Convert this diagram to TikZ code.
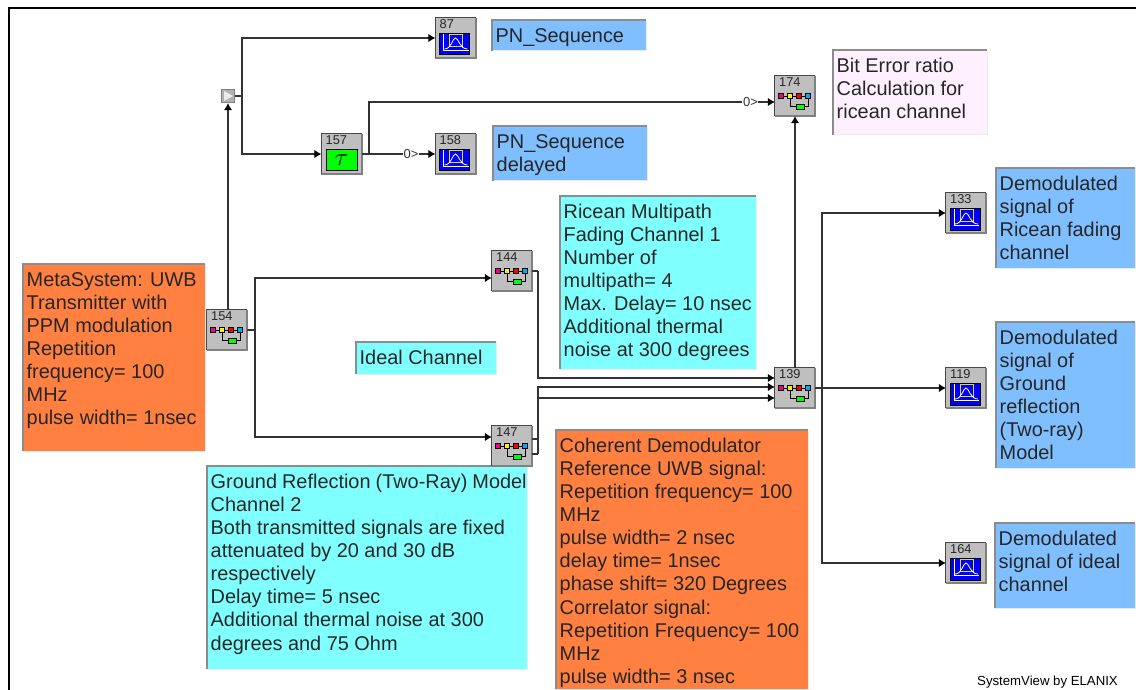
\documentclass[tikz,border=0pt]{standalone}
\usepackage{fontspec}
\setmainfont{Liberation Sans}
\usetikzlibrary{arrows.meta,calc}
\definecolor{sblue}{HTML}{80BFFF}
\definecolor{scyan}{HTML}{80FFFF}
\definecolor{sorange}{HTML}{FF8040}
\definecolor{spink}{HTML}{FFF0FF}
\definecolor{wirec}{HTML}{333333}
\tikzset{
  wire/.style={draw=wirec,line width=1.25pt},
  arrowwire/.style={wire,-{Latex[length=7pt,width=8.5pt,black]}},
  blockbox/.style={fill=black!25,minimum width=40pt,minimum height=40pt,inner sep=0pt},
  blocklabel/.style={font=\fontsize{12.8}{13}\selectfont,inner sep=0pt,text=black!85},
  zerolabel/.style={font=\fontsize{13}{13}\selectfont,fill=white,inner sep=0.6pt,text=black!80},
  notebox/.style={anchor=north west,inner sep=0pt,font=\fontsize{19.9}{23.1}\selectfont,text=black!85}
}
\newcommand{\blockedge}[1]{%
  \draw[black!50,line width=1.9pt] (#1.south west) -- (#1.south east) -- (#1.north east);
  \draw[black!72,line width=1.1pt] (#1.south west) -- (#1.north west) -- (#1.north east);}
% name, x, y, label
\newcommand{\metablock}[4]{%
  \node[blockbox] (#1) at (#2,#3) {};
  \blockedge{#1}
  \begin{scope}[shift={(#2,#3)}]
    \node[blocklabel,anchor=west] (#1t) at (-16,-13.5) {#4};
    \draw[black,line width=0.9pt] (-14,0) -- (13,0);
    \draw[black,line width=0.9pt] (-5,0) |- (1,10) (9,10) -| (13,0);
    \foreach \cx/\cc in {-14/magenta,-5/yellow,4/red,13/cyan}
      \draw[black,line width=.5pt,fill=\cc] (\cx-2.3,-2.6) rectangle (\cx+2.3,2.6);
    \draw[black,line width=.5pt,fill=green] (1,8) rectangle (9,13.5);
  \end{scope}}
\newcommand{\sinkblock}[4]{%
  \node[blockbox] (#1) at (#2,#3) {};
  \blockedge{#1}
  \begin{scope}[shift={(#2,#3)}]
    \node[blocklabel,anchor=west] (#1t) at (-16,-13.5) {#4};
    \fill[black] (-16.5,-5.2) rectangle (14.5,17.5);
    \fill[blue] (-15.5,-4.2) rectangle (13.5,16.5);
    \draw[yellow!90!black,line width=.9pt] (-6,-3.5) rectangle (7,8.5);
    \draw[white,line width=.8pt] (-12,-4) -- (-12,12.5) -- (13,12.5);
    \draw[white,line width=.8pt] (-11,11) .. controls (-4,11) and (-3,0) .. (0,0) .. controls (3,0) and (4,11) .. (12,11);
  \end{scope}}
% name x1 y1 x2 y2 colour text
\newcommand{\notebox}[7]{%
  \pgfmathsetmacro{\nw}{#4-#2-4}\pgfmathsetmacro{\nh}{#5-#3-7}%
  \fill[#6] (#2,#3) rectangle (#4,#5);
  \draw[black!8,line width=1pt] (#2,#5) -- (#4,#5) -- (#4,#3);
  \draw[black!45,line width=1.6pt] (#2,#5) -- (#2,#3) -- (#4,#3);
  \node[notebox] (#1) at (#2+3.5,#3+6) {\begin{minipage}[t][\nh pt][t]{\nw pt}\raggedright\strut #7\end{minipage}};}
\begin{document}
\begin{tikzpicture}[x=1pt,y=-1pt]
\useasboundingbox (0,0) rectangle (1136,690);
\fill[white] (0,0) rectangle (1136,690);
% frame
\coordinate (fa) at (9,690);
\coordinate (fb) at (9,8);
\coordinate (fc) at (1136,8);
\draw[black,line width=2.6pt] (fa) -- (fb) -- (fc);
% text boxes
\notebox{tpn}{492}{20}{646}{51}{sblue}{PN\_Sequence}
\notebox{tpnd}{493}{126}{647}{181}{sblue}{PN\_Sequence\\delayed}
\notebox{tber}{833}{50}{987}{135}{spink}{Bit Error ratio\\Calculation for\\ricean channel}
\notebox{tdr}{996}{168}{1135}{268}{sblue}{Demodulated\\signal of\\Ricean fading\\channel}
\notebox{tdg}{996}{322}{1135}{468}{sblue}{Demodulated\\signal of\\Ground\\reflection\\(Two-ray)\\Model}
\notebox{tdi}{995}{523}{1135}{608}{sblue}{Demodulated\\signal of ideal\\channel}
\notebox{tric}{560}{196}{756}{369}{scyan}{Ricean Multipath\\Fading Channel 1\\Number of\\multipath= 4\\Max. Delay= 10 nsec\\Additional thermal\\noise at 300 degrees}
\notebox{tid}{356}{342}{496}{374}{scyan}{Ideal Channel}
\notebox{tgr}{207}{466}{527}{669}{scyan}{Ground Reflection (Two-Ray) Model\\Channel 2\\Both transmitted signals are fixed\\attenuated by 20 and 30 dB\\respectively\\Delay time= 5 nsec\\Additional thermal noise at 300\\degrees and 75 Ohm}
\notebox{tmeta}{23}{264}{205}{451}{sorange}{MetaSystem: UWB\\Transmitter with\\PPM modulation\\Repetition\\frequency= 100\\MHz\\pulse width= 1nsec}
\notebox{tcoh}{556}{430}{808}{689}{sorange}{Coherent Demodulator\\Reference UWB signal:\\Repetition frequency= 100\\MHz\\pulse width= 2 nsec\\delay time= 1nsec\\phase shift= 320 Degrees\\Correlator signal:\\Repetition Frequency= 100\\MHz\\pulse width= 3 nsec}
% blocks
\sinkblock{b87}{455.5}{38}{87}
\sinkblock{b158}{455.5}{154}{158}
\sinkblock{b133}{966}{213}{133}
\sinkblock{b119}{966}{388}{119}
\sinkblock{b164}{966}{563}{164}
\metablock{b174}{795}{96}{174}
\metablock{b139}{795}{388}{139}
\metablock{b144}{512}{271}{144}
\metablock{b147}{512}{446}{147}
\metablock{b154}{227}{330}{154}
\node[blockbox] (b157) at (341.5,154) {};
\blockedge{b157}
\node[blocklabel,anchor=west] (b157t) at (325.5,140) {157};
\node[draw=black,line width=.8pt,fill=green,minimum width=31pt,minimum height=21pt,inner sep=0pt] (b157g) at (341.5,160) {\fontsize{30}{30}\selectfont$\tau$};
\node[draw=black!50,line width=1.4pt,fill=black!30,minimum width=13pt,minimum height=13pt,inner sep=0pt] (tri) at (228,96) {};
\fill[white!92!black] (224,91) -- (233,96) -- (224,101) -- cycle;
% junctions
\coordinate (j1) at (242,96);
\coordinate (j2) at (369,154);
\coordinate (j3) at (255,330);
\coordinate (j4) at (822,388);
\coordinate (p144) at (538,271);
\coordinate (p147a) at (538,439);
\coordinate (p147b) at (538,454);
% wires
\draw[arrowwire] (b154.north -| tri) -- (tri.south);
\draw[wire] (tri.east) -- (j1);
\draw[arrowwire] (j1) |- (b87.west);
\draw[arrowwire] (j1) |- (b157.west);
\draw[arrowwire] (b157.east) -- node[zerolabel,pos=.67] (z1) {0>} (b158.west);
\draw[arrowwire] (j2) |- node[zerolabel,pos=.97] (z2) {0>} ($(b174.west)+(0,6)$);
\draw[wire] (b154.east) -- (j3);
\draw[arrowwire] (j3) |- ($(b144.west)+(0,7)$);
\draw[arrowwire] (j3) |- ($(b147.west)+(0,-9)$);
\draw[wire] ($(b144.east)$) -- (p144);
\draw[arrowwire] (p144) |- ($(b139.west)+(0,-10)$);
\draw[wire] (b147.east |- p147a) -- (p147a);
\draw[wire] (b147.east |- p147b) -- (p147b);
\draw[arrowwire] (p147a) |- ($(b139.west)+(0,-1)$);
\draw[arrowwire] (p147b) |- ($(b139.west)+(0,10)$);
\draw[arrowwire] (b139.north) -- (b174.south);
\draw[wire] (b139.east) -- (j4);
\draw[arrowwire] (j4) -- (b119.west);
\draw[arrowwire] (j4) |- (b133.west);
\draw[arrowwire] (j4) |- (b164.west);
\node[anchor=east,inner sep=0pt,font=\fontsize{13.2}{13}\selectfont,text=black] (credit) at (1118,682) {SystemView by ELANIX};
\end{tikzpicture}
\end{document}
